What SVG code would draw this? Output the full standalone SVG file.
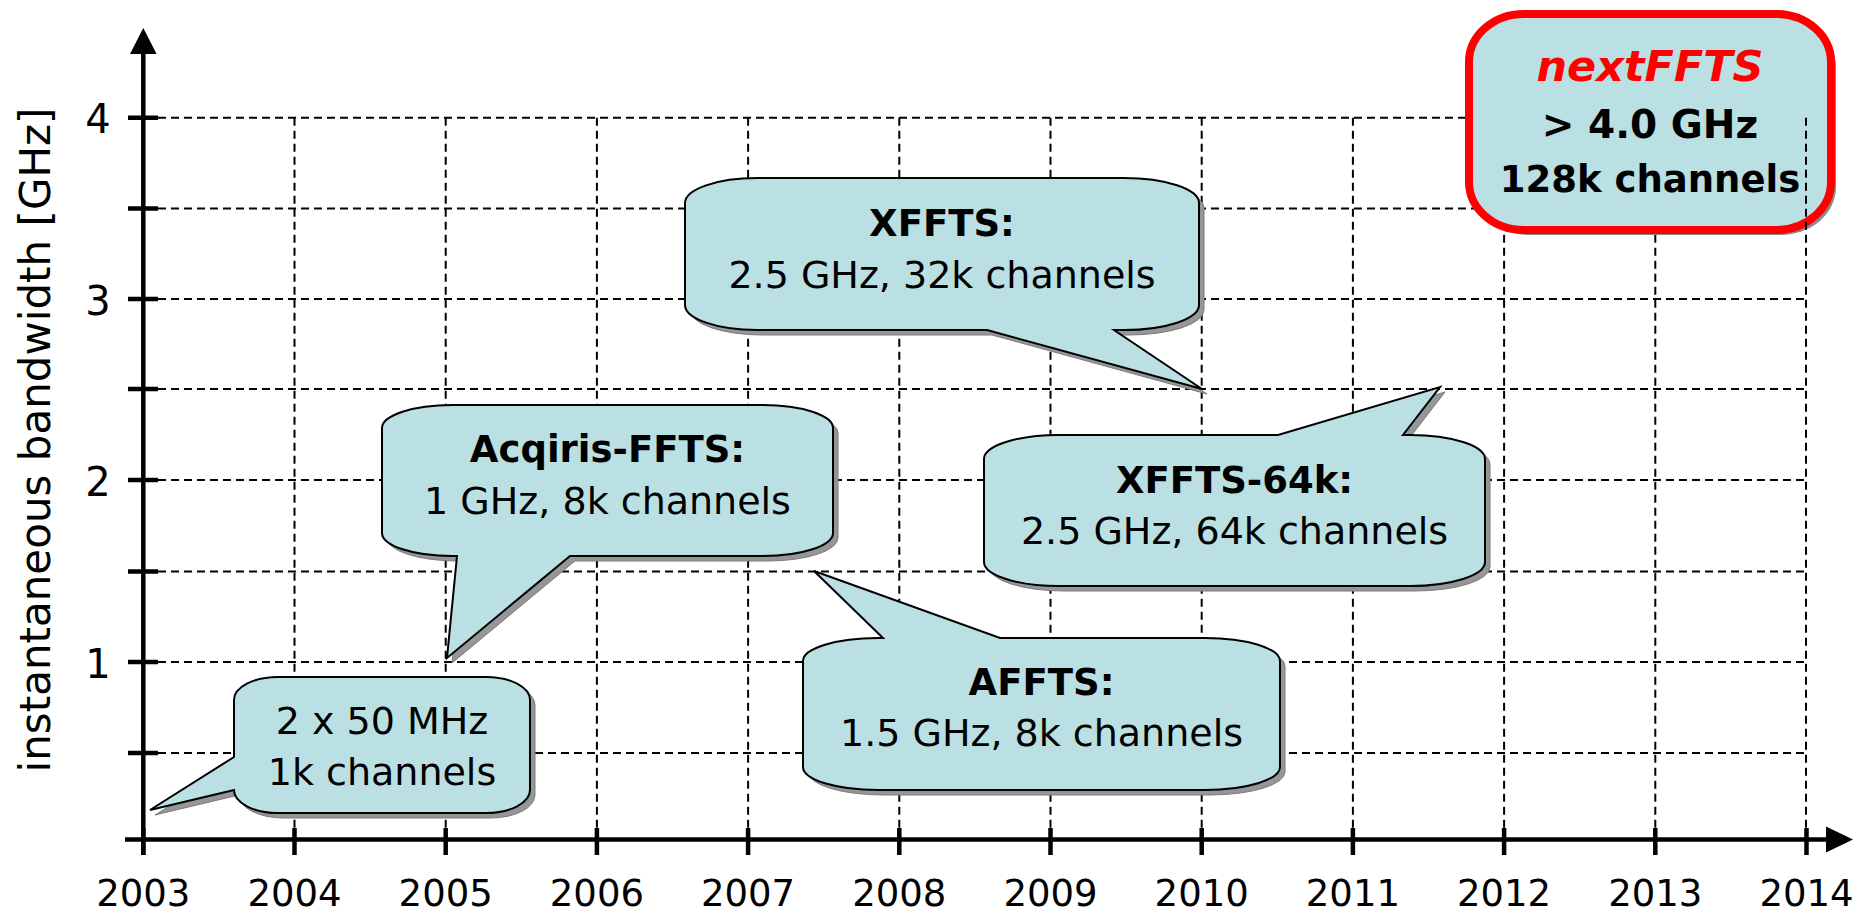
<svg xmlns="http://www.w3.org/2000/svg" xmlns:xlink="http://www.w3.org/1999/xlink" width="1855" height="914" viewBox="0 0 1855 914">
<style>
.grid{stroke:#000;stroke-width:2;stroke-dasharray:8 5;fill:none}
.axis{stroke:#000;stroke-width:4.5;fill:none}
.lbl{font-family:"DejaVu Sans","Noto Sans",sans-serif;font-size:38px;fill:#000;text-anchor:middle}
.yr{font-size:37px}
.b{font-weight:bold;font-size:37px}
.callout{fill:#BBE0E3;stroke:#000;stroke-width:2;stroke-linejoin:miter}
.shadow{fill:#969696;stroke:#7c7c7c;stroke-width:1}
</style>
<defs>
<path id="p1" d="M 278,677 H 486 A 44,23 0 0 1 530,700 V 790 A 44,23 0 0 1 486,813 H 278 A 44,23 0 0 1 234,790 L 150,810 L 234,757 V 700 A 44,23 0 0 1 278,677 Z"/>
<path id="p2" d="M 452,405 H 763 A 70,23 0 0 1 833,428 V 533 A 70,23 0 0 1 763,556 H 570 L 447,658 L 457,556 H 452 A 70,23 0 0 1 382,533 V 428 A 70,23 0 0 1 452,405 Z"/>
<path id="p3" d="M 757,178 H 1124 A 75,25 0 0 1 1199,203 V 305 A 75,25 0 0 1 1124,330 H 1114 L 1202,389 L 987,330 H 757 A 72,25 0 0 1 685,305 V 203 A 72,25 0 0 1 757,178 Z"/>
<path id="p4" d="M 1059,435 H 1278 L 1440,387 L 1403,435 H 1410 A 75,24 0 0 1 1485,459 V 562 A 75,24 0 0 1 1410,586 H 1059 A 75,24 0 0 1 984,562 V 459 A 75,24 0 0 1 1059,435 Z"/>
<path id="p5" d="M 878,638 H 883 L 814,571 L 1000,638 H 1205 A 75,23 0 0 1 1280,661 V 767 A 75,23 0 0 1 1205,790 H 878 A 75,23 0 0 1 803,767 V 661 A 75,23 0 0 1 878,638 Z"/>
<rect id="p6" x="1469" y="14" width="362" height="216" rx="55" ry="48"/>
</defs>

<g id="grid">
<path class="grid" d="M158,117.7H1806 M158,208.5H1806 M158,299H1806 M158,389H1806 M158,480H1806 M158,571.5H1806 M158,662H1806 M158,753H1806"/>
<path class="grid" d="M294.5,117.7V828 M445.7,117.7V828 M596.9,117.7V828 M748.1,117.7V828 M899.3,117.7V828 M1050.5,117.7V828 M1201.7,117.7V828 M1352.9,117.7V828 M1504.1,117.7V828 M1655.3,117.7V828"/>
</g>

<g id="axes">
<path class="axis" d="M143.3,855 V52"/>
<polygon points="143.3,28 130,54 156.6,54" fill="#000"/>
<path class="axis" d="M125,839.5 H1828"/>
<polygon points="1853,839.5 1826,826.5 1826,852.5" fill="#000"/>
<path class="axis" d="M128,117.7H158 M128,208.5H158 M128,299H158 M128,389H158 M128,480H158 M128,571.5H158 M128,662H158 M128,753H158"/>
<path class="axis" d="M143.3,828V855 M294.5,828V855 M445.7,828V855 M596.9,828V855 M748.1,828V855 M899.3,828V855 M1050.5,828V855 M1201.7,828V855 M1352.9,828V855 M1504.1,828V855 M1655.3,828V855 M1806.5,828V855"/>
<g class="lbl">
<text x="98" y="133.3" style="font-size:40px">4</text>
<text x="98" y="314.6" style="font-size:40px">3</text>
<text x="98" y="495.6" style="font-size:40px">2</text>
<text x="98" y="677.6" style="font-size:40px">1</text>
<text class="yr" x="143.3" y="906">2003</text>
<text class="yr" x="294.5" y="906">2004</text>
<text class="yr" x="445.7" y="906">2005</text>
<text class="yr" x="596.9" y="906">2006</text>
<text class="yr" x="748.1" y="906">2007</text>
<text class="yr" x="899.3" y="906">2008</text>
<text class="yr" x="1050.5" y="906">2009</text>
<text class="yr" x="1201.7" y="906">2010</text>
<text class="yr" x="1352.9" y="906">2011</text>
<text class="yr" x="1504.1" y="906">2012</text>
<text class="yr" x="1655.3" y="906">2013</text>
<text class="yr" x="1806.5" y="906">2014</text>
<text transform="translate(50,440) rotate(-90)" x="0" y="0" style="font-size:42px">instantaneous bandwidth [GHz]</text>
</g>
</g>

<g id="n1">
<use xlink:href="#p1" class="shadow" transform="translate(5,5)"/>
<use xlink:href="#p1" class="callout"/>
<text class="lbl" x="382" y="734.3">2 x 50 MHz</text>
<text class="lbl" x="382" y="785">1k channels</text>
</g>

<g id="n2">
<use xlink:href="#p2" class="shadow" transform="translate(5,5)"/>
<use xlink:href="#p2" class="callout"/>
<text class="lbl b" x="607.5" y="461.7">Acqiris-FFTS:</text>
<text class="lbl" x="607.5" y="514.3">1 GHz, 8k channels</text>
</g>

<g id="n3">
<use xlink:href="#p3" class="shadow" transform="translate(5,5)"/>
<use xlink:href="#p3" class="callout"/>
<text class="lbl b" x="942" y="236">XFFTS:</text>
<text class="lbl" x="942" y="287.7">2.5 GHz, 32k channels</text>
</g>

<g id="n4">
<use xlink:href="#p4" class="shadow" transform="translate(5,5)"/>
<use xlink:href="#p4" class="callout"/>
<text class="lbl b" x="1234.5" y="493.3">XFFTS-64k:</text>
<text class="lbl" x="1234.5" y="544.3">2.5 GHz, 64k channels</text>
</g>

<g id="n5">
<use xlink:href="#p5" class="shadow" transform="translate(5,5)"/>
<use xlink:href="#p5" class="callout"/>
<text class="lbl b" x="1041.5" y="695">AFFTS:</text>
<text class="lbl" x="1041.5" y="745.7">1.5 GHz, 8k channels</text>
</g>

<g id="n6">
<use xlink:href="#p6" fill="#8a8a8a" transform="translate(5,5)"/>
<use xlink:href="#p6" fill="#BBE0E3" stroke="#FF0000" stroke-width="8"/>
<text class="lbl" x="1650" y="81" style="font-weight:bold;font-style:italic;font-size:43px;fill:#FF0000">nextFFTS</text>
<text class="lbl" x="1650" y="138.3" style="font-weight:bold;font-size:39px">&gt; 4.0 GHz</text>
<text class="lbl" x="1650" y="191.7" style="font-weight:bold;font-size:37px">128k channels</text>
</g>

<g id="grid-top">
<path class="grid" d="M1806,117.7V828"/>
</g>
</svg>
